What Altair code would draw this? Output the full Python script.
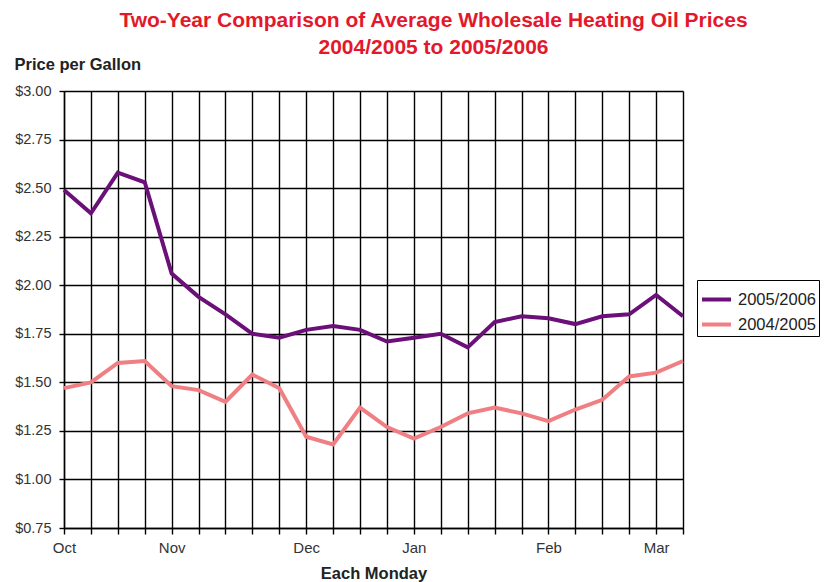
import altair as alt
import pandas as pd

# Weekly Monday index (0 = first Monday of October)
week_index = list(range(24))
month_positions = [0, 4, 9, 13, 18, 22]
month_names = ["Oct", "Nov", "Dec", "Jan", "Feb", "Mar"]

series_names = ["2005/2006", "2004/2005"]
prices_2005_2006 = [2.49, 2.37, 2.58, 2.53, 2.06, 1.94, 1.85, 1.75, 1.73, 1.77,
                    1.79, 1.77, 1.71, 1.73, 1.75, 1.68, 1.81, 1.84, 1.83, 1.80,
                    1.84, 1.85, 1.95, 1.84]
prices_2004_2005 = [1.47, 1.50, 1.60, 1.61, 1.48, 1.46, 1.40, 1.54, 1.47, 1.22,
                    1.18, 1.37, 1.27, 1.21, 1.27, 1.34, 1.37, 1.34, 1.30, 1.36,
                    1.41, 1.53, 1.55, 1.61]
y_ticks = [0.75, 1.00, 1.25, 1.50, 1.75, 2.00, 2.25, 2.50, 2.75, 3.00]

rows = []
for w, v in zip(week_index, prices_2005_2006):
    rows.append({"week": w, "price": v, "season": series_names[0]})
for w, v in zip(week_index, prices_2004_2005):
    rows.append({"week": w, "price": v, "season": series_names[1]})
df = pd.DataFrame(rows)

label_expr = " : ".join(
    f"datum.value == {p} ? '{m}'" for p, m in zip(month_positions, month_names)
) + " : ''"

FONT = "Liberation Sans"

chart = alt.Chart(df).mark_line(strokeWidth=4).encode(
    x=alt.X(
        "week:Q",
        scale=alt.Scale(domain=[0, 23], nice=False, zero=False),
        axis=alt.Axis(
            values=week_index,
            labelExpr=label_expr,
            title="Each Monday",
            grid=True,
            gridColor="#000000",
            gridWidth=1.4,
            domainColor="#000000",
            domainWidth=1.4,
            tickColor="#000000",
            tickWidth=1.4,
            tickSize=6,
            labelPadding=6,
            labelFont=FONT,
            labelFontSize=15,
            labelColor="#333333",
            labelFlush=False,
            labelOverlap=False,
            titleFont=FONT,
            titleFontSize=16.5,
            titleFontWeight="bold",
            titleColor="#222222",
            titlePadding=10,
        ),
    ),
    y=alt.Y(
        "price:Q",
        scale=alt.Scale(domain=[0.75, 3.0], nice=False, zero=False),
        axis=alt.Axis(
            values=y_ticks,
            format="$.2f",
            title="Price per Gallon",
            titleAngle=0,
            titleAlign="left",
            titleBaseline="alphabetic",
            titleX=-50,
            titleY=-22,
            grid=True,
            gridColor="#000000",
            gridWidth=1.4,
            domainColor="#000000",
            domainWidth=1.4,
            tickColor="#000000",
            tickWidth=1.4,
            tickSize=5,
            labelPadding=8,
            labelFont=FONT,
            labelFontSize=14.5,
            labelColor="#333333",
            titleFont=FONT,
            titleFontSize=16.5,
            titleFontWeight="bold",
            titleColor="#222222",
        ),
    ),
    color=alt.Color(
        "season:N",
        scale=alt.Scale(domain=series_names, range=["#6b0f79", "#ef7f83"]),
        legend=alt.Legend(
            title=None,
            orient="none",
            legendX=633,
            legendY=189,
            symbolType="stroke",
            symbolSize=841,
            symbolStrokeWidth=4,
            labelFont=FONT,
            labelFontSize=16.5,
            labelColor="#222222",
            strokeColor="#000000",
            padding=3,
            rowPadding=0,
            labelOffset=5,
        ),
    ),
    order=alt.Order("week:Q"),
).properties(
    width=619,
    height=437,
    autosize=alt.AutoSizeParams(type="none"),
    padding={"left": 56, "top": 83, "right": 139, "bottom": 56},
    title=alt.TitleParams(
        text=["Two-Year Comparison of Average Wholesale Heating Oil Prices",
              "2004/2005 to 2005/2006"],
        color="#e3192b",
        font=FONT,
        fontSize=21,
        fontWeight="bold",
        anchor="middle",
        dx=60,
        dy=12,
        lineHeight=27,
        offset=10,
    ),
).configure_view(
    stroke="#888888",
    strokeWidth=1.4,
).configure(background="#ffffff")

chart.save("out.html", embed_options={"renderer": "svg", "actions": False})
